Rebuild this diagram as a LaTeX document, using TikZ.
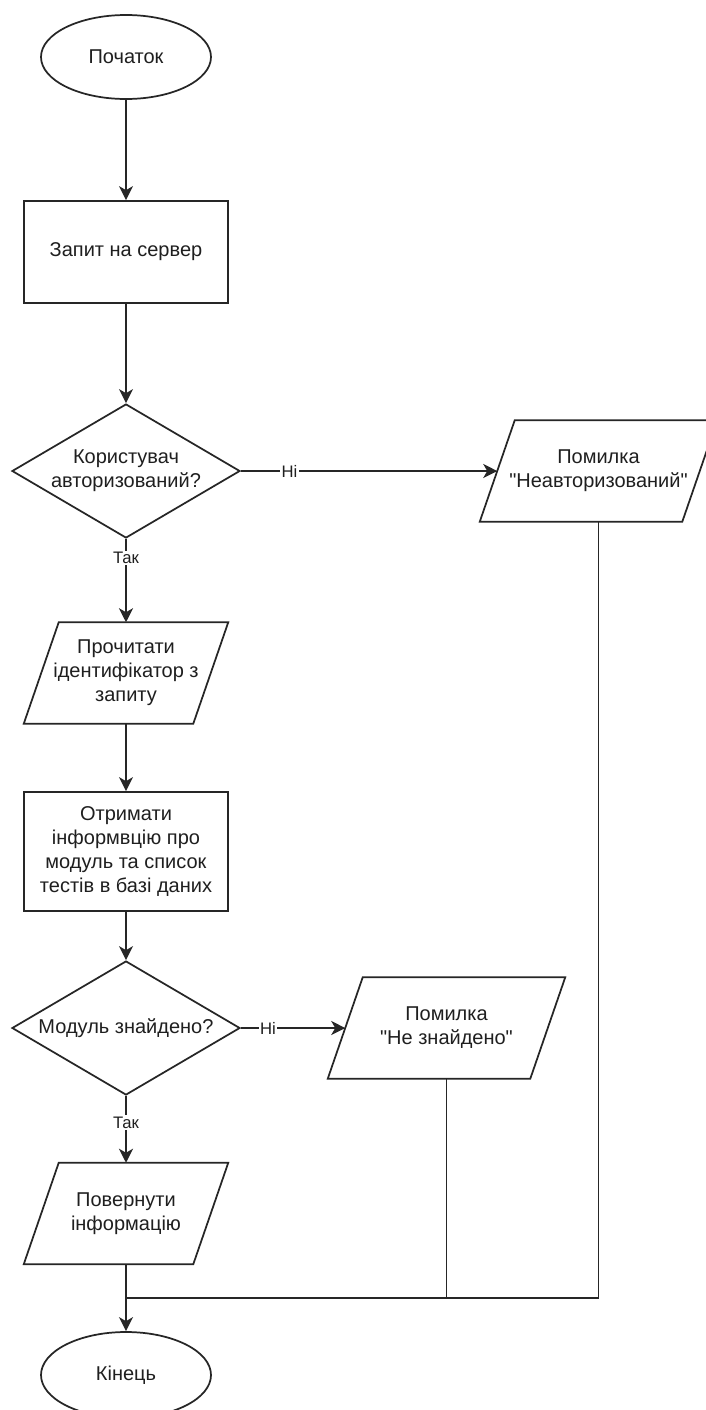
\documentclass[tikz,border=0pt]{standalone}
\usepackage{fontspec}
\setmainfont{Liberation Sans}[Ligatures=TeXOff]
\usetikzlibrary{shapes.geometric,arrows.meta,calc}

% slanted input/output box drawn inside a plain rectangle node
\newcommand\slantio[1]{%
  \draw[shp] (#1.south west) -- ($(#1.south east)+(-26.25pt,0)$)
    -- (#1.north east) -- ($(#1.north west)+(26.25pt,0)$) -- cycle;}

\begin{document}
\begin{tikzpicture}[x=0.75pt,y=-0.75pt,
  every node/.style={font=\fontsize{15pt}{18pt}\selectfont, text=black!88, align=center},
  shp/.style={draw=black!85, line width=1.3pt},
  term/.style={shp, ellipse, inner sep=0pt, minimum width=127.5pt, minimum height=63pt},
  proc/.style={shp, rectangle, inner sep=0pt, minimum width=153pt},
  dec/.style={shp, diamond, aspect=1.7, inner sep=-6pt, minimum width=171pt, minimum height=100.5pt},
  io/.style={rectangle, inner sep=0pt, minimum height=75.75pt},
  flow/.style={draw=black!85, line width=1.3pt, -{Stealth[length=10.5pt,width=10.5pt,inset=3pt]}},
  link/.style={draw=black!85, line width=1.3pt},
  lbl/.style={fill=white, inner sep=1pt, font=\fontsize{12.5pt}{14pt}\selectfont}
]
\useasboundingbox[fill=white] (0,0) rectangle (706,1410);

% main column
\node[term] (start) at (126,57) {Початок};
\node[proc, minimum height=76.5pt] (req) at (126,252) {Запит на сервер};
\node[dec] (d1) at (126,471) {Користувач\\авторизований?};
\node[io, minimum width=177.75pt] (p1) at (598.5,471) {Помилка\\"Неавторизований"};
\node[io, minimum width=153pt] (p2) at (126,673) {Прочитати\\ідентифікатор з\\запиту};
\node[proc, minimum height=89.25pt] (get) at (126,851.5) {Отримати\\інформвцію про\\модуль та список\\тестів в базі даних};
\node[dec] (d2) at (126,1028) {Модуль знайдено?};
\node[io, minimum width=177.75pt] (p3) at (446.5,1028) {Помилка\\"Не знайдено"};
\node[io, minimum width=153pt] (p4) at (126,1213.5) {Повернути\\інформацію};
\node[term, minimum height=64.5pt] (end) at (126,1375) {Кінець};

\slantio{p1}
\slantio{p2}
\slantio{p3}
\slantio{p4}

% connectors
\draw[flow] (start) -- (req);
\draw[flow] (req) -- (d1);
\draw[flow] (d1.east) -- node[lbl, pos=0.19] {Ні} ($(p1.west)+(13.125pt,0)$);
\draw[flow] (d1.south) -- node[lbl, pos=0.226] {Так} (p2.north);
\draw[flow] (p2) -- (get);
\draw[flow] (get) -- (d2);
\draw[flow] (d2.east) -- node[lbl, pos=0.26] {Ні} ($(p3.west)+(13.125pt,0)$);
\draw[flow] (d2.south) -- node[lbl, pos=0.4] {Так} (p4.north);
\draw[flow] (p4.south) -- (end.north);

% error branches join the final arrow
\coordinate (m) at (126,1298);
\draw[link] (p3.south) |- (m);
\draw[link] (p1.south) |- (m);
\end{tikzpicture}
\end{document}
